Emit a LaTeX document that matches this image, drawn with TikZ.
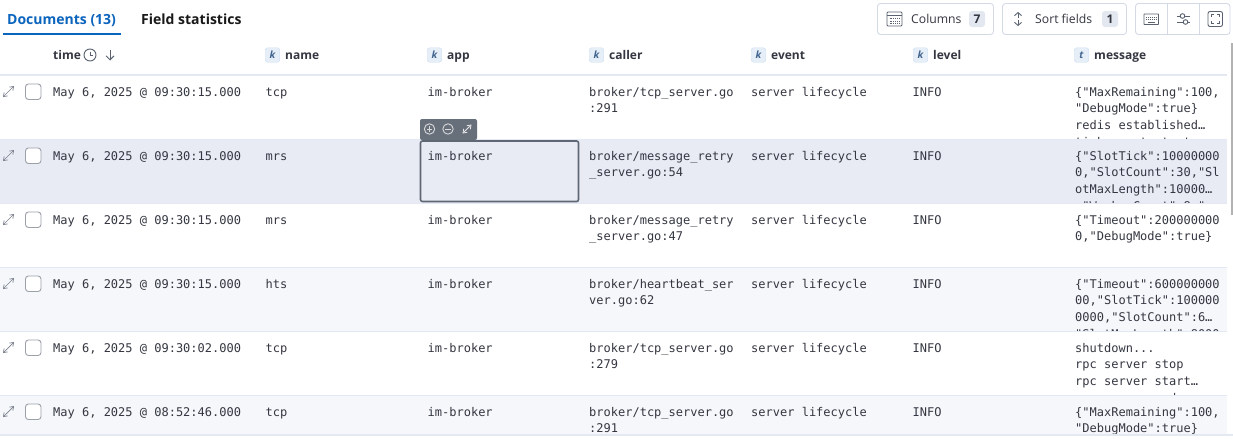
\documentclass[tikz,border=0pt]{standalone}
\usepackage{fontspec}
\usepackage{tikz}
\usetikzlibrary{arrows.meta}
\setmainfont{Open Sans}
\newfontfamily\cellfont{DejaVu Sans Mono}
\definecolor{inktext}{HTML}{343741}
\definecolor{linkblue}{HTML}{0B64BD}
\definecolor{rowline}{HTML}{E3E8F2}
\definecolor{rowstripe}{HTML}{F5F7FA}
\definecolor{rowhover}{HTML}{E8EBF4}
\definecolor{btnline}{HTML}{D3DAE6}
\definecolor{iconink}{HTML}{5A6270}
\definecolor{cellframe}{HTML}{5F6774}
\definecolor{badgefill}{HTML}{E6EEF8}
\definecolor{badgeline}{HTML}{CCDDF0}
\definecolor{badgeink}{HTML}{42658F}
\definecolor{countfill}{HTML}{E3E8F0}
\tikzset{
  cell/.style={anchor=north west,inner sep=0,align=left,text=inktext,
    font=\fontsize{12}{16.6}\selectfont\cellfont},
  head/.style={anchor=base west,inner sep=0,text=inktext,font=\fontsize{12}{16}\selectfont\bfseries},
  tabtext/.style={anchor=base west,inner sep=0,font=\fontsize{14}{16}\selectfont\bfseries},
  btntext/.style={anchor=base west,inner sep=0,text=inktext,font=\fontsize{12.2}{16}\selectfont},
  badge/.style={draw=badgeline,fill=badgefill,rounded corners=2.5,minimum size=14.5,inner sep=0,
    text=badgeink,font=\fontsize{10}{12}\selectfont\bfseries\itshape},
  count/.style={fill=countfill,rounded corners=3,minimum width=16,minimum height=16,inner sep=0,
    text=inktext,font=\fontsize{12}{14}\selectfont\bfseries},
  button/.style={draw=btnline,line width=0.9,rounded corners=3},
  rowsep/.style={rowline,line width=1.3},
  tick/.style={draw=iconink!60,line width=0.9,fill=white,rounded corners=3},
  expand/.style={iconink!80,line width=0.7,{Straight Barb[length=3.5,width=5]}-{Straight Barb[length=3.5,width=5]}},
  icon/.style={iconink,line width=0.9},
  tool/.style={white!85!black,line width=0.9}
}
\begin{document}
\begin{tikzpicture}[x=1pt,y=-1pt]
\useasboundingbox (0,0) rectangle (1233,447);
\fill[white] (0,0) rectangle (1233,447);
% tabs
\node[tabtext,text=linkblue] (tabdocs) at (7,24) {Documents (13)};
\node[tabtext,text=black!90] (tabstats) at (141,24) {Field statistics};
\fill[linkblue] (3,33) rectangle (120.5,35);
% toolbar
\draw[button] (877.5,3.5) rectangle (993.5,34.5);
\draw[icon,rounded corners=1] (887,12) rectangle (902,26);
\draw[icon] (887,15.5) -- (902,15.5);
\draw[icon,densely dotted] (889.5,18.5) -- (900,18.5);
\draw[icon,densely dotted] (889.5,21) -- (900,21);
\draw[icon,densely dotted] (889.5,23.5) -- (900,23.5);
\node[btntext] (colstext) at (911,23.5) {Columns};
\node[count] (colscount) at (977,19) {7};
\draw[button] (1002.5,3.5) rectangle (1126.5,34.5);
\draw[icon,-{Straight Barb[length=3,width=7]}] (1018,18) -- (1018,12);
\draw[icon,-{Straight Barb[length=3,width=7]}] (1018,20) -- (1018,26);
\node[btntext] (sorttext) at (1035,23.5) {Sort fields};
\node[count] (sortcount) at (1110,19) {1};
\draw[button] (1135.5,3.5) rectangle (1230,34.5);
\draw[btnline,line width=0.9] (1167.5,3.5) -- (1167.5,34.5);
\draw[btnline,line width=0.9] (1199.5,3.5) -- (1199.5,34.5);
\draw[icon,rounded corners=0.5] (1144,14) rectangle (1158.5,24.5);
\draw[icon,densely dotted] (1146,17) -- (1157,17);
\draw[icon,densely dotted] (1146,19.5) -- (1157,19.5);
\draw[icon] (1148,22.3) -- (1155,22.3);
\draw[icon] (1177,16) -- (1180,16) (1185,16) -- (1190,16);
\draw[icon] (1177,22) -- (1183,22) (1188,22) -- (1190,22);
\draw[icon] (1182.5,16) circle (2.3);
\draw[icon] (1185.5,22) circle (2.3);
\draw[icon,rounded corners=2] (1208,11.5) rectangle (1222.5,26.5);
\draw[icon] (1211,17) -- (1211,14.5) -- (1213.5,14.5);
\draw[icon] (1217,14.5) -- (1219.5,14.5) -- (1219.5,17);
\draw[icon] (1211,21) -- (1211,23.5) -- (1213.5,23.5);
\draw[icon] (1217,23.5) -- (1219.5,23.5) -- (1219.5,21);
% column heads
\node[head] (timehead) at (53,59.5) {time};
\draw[icon] (90,55) circle (6);
\draw[icon] (90,51.5) -- (90,55.5) -- (93,55.5);
\draw[icon,-{Straight Barb[length=4,width=8]}] (110,49.5) -- (110,60.5);
\node[badge] (namek) at (272.5,55) {k};
\node[head] (namehead) at (285,59.5) {name};
\node[badge] (appk) at (434.5,55) {k};
\node[head] (apphead) at (447,59.5) {app};
\node[badge] (callerk) at (596.5,55) {k};
\node[head] (callerhead) at (609,59.5) {caller};
\node[badge] (eventk) at (758.5,55) {k};
\node[head] (eventhead) at (771,59.5) {event};
\node[badge] (levelk) at (920.5,55) {k};
\node[head] (levelhead) at (933,59.5) {level};
\node[badge] (messaget) at (1081.5,55) {t};
\node[head] (messagehead) at (1094,59.5) {message};
\draw[rowsep] (0,75) -- (1227,75);
% row 1
\draw[expand] (3,97) -- (14,86);
\draw[tick] (25.5,84) rectangle (41,99.5);
\node[cell] (time1) at (53,84.4) {\strut May 6, 2025 @ 09:30:15.000};
\node[cell] (name1) at (265.5,84.4) {\strut tcp};
\node[cell] (app1) at (427.5,84.4) {\strut im-broker};
\node[cell] (caller1) at (589,84.4) {\strut broker/tcp\_server.go\\:291};
\node[cell] (event1) at (751,84.4) {\strut server lifecycle};
\node[cell] (level1) at (912.5,84.4) {\strut INFO};
\node[cell] (message1) at (1075,84.4) {\strut \{"MaxRemaining":100,\\"DebugMode":true\}\\redis established…\\tick count start};
% row 2
\fill[rowhover] (0,139.5) rectangle (1227,203.5);
\draw[rowsep] (0,139.5) -- (1227,139.5);
\draw[expand] (3,161) -- (14,150);
\draw[tick] (25.5,148) rectangle (41,163.5);
\node[cell] (time2) at (53,148.4) {\strut May 6, 2025 @ 09:30:15.000};
\node[cell] (name2) at (265.5,148.4) {\strut mrs};
\node[cell] (caller2) at (589,148.4) {\strut broker/message\_retry\\\_server.go:54};
\node[cell] (event2) at (751,148.4) {\strut server lifecycle};
\node[cell] (level2) at (912.5,148.4) {\strut INFO};
\node[cell] (message2) at (1075,148.4) {\strut \{"SlotTick":10000000\\0,"SlotCount":30,"Sl\\otMaxLength":10000…\\,"WorkerCount":8,"};
% row 3
\fill[white] (0,203.5) rectangle (1227,267.5);
\draw[rowsep] (0,203.5) -- (1227,203.5);
\draw[expand] (3,225) -- (14,214);
\draw[tick] (25.5,212) rectangle (41,227.5);
\node[cell] (time3) at (53,212.4) {\strut May 6, 2025 @ 09:30:15.000};
\node[cell] (name3) at (265.5,212.4) {\strut mrs};
\node[cell] (app3) at (427.5,212.4) {\strut im-broker};
\node[cell] (caller3) at (589,212.4) {\strut broker/message\_retry\\\_server.go:47};
\node[cell] (event3) at (751,212.4) {\strut server lifecycle};
\node[cell] (level3) at (912.5,212.4) {\strut INFO};
\node[cell] (message3) at (1075,212.4) {\strut \{"Timeout":200000000\\0,"DebugMode":true\}};
% row 4
\fill[rowstripe] (0,267.5) rectangle (1227,331.5);
\draw[rowsep] (0,267.5) -- (1227,267.5);
\draw[expand] (3,289) -- (14,278);
\draw[tick] (25.5,276) rectangle (41,291.5);
\node[cell] (time4) at (53,276.4) {\strut May 6, 2025 @ 09:30:15.000};
\node[cell] (name4) at (265.5,276.4) {\strut hts};
\node[cell] (app4) at (427.5,276.4) {\strut im-broker};
\node[cell] (caller4) at (589,276.4) {\strut broker/heartbeat\_ser\\ver.go:62};
\node[cell] (event4) at (751,276.4) {\strut server lifecycle};
\node[cell] (level4) at (912.5,276.4) {\strut INFO};
\node[cell] (message4) at (1075,276.4) {\strut \{"Timeout":600000000\\00,"SlotTick":100000\\0000,"SlotCount":6…\\"SlotMaxLength":8000};
% row 5
\fill[white] (0,331.5) rectangle (1227,395.5);
\draw[rowsep] (0,331.5) -- (1227,331.5);
\draw[expand] (3,353) -- (14,342);
\draw[tick] (25.5,340) rectangle (41,355.5);
\node[cell] (time5) at (53,340.4) {\strut May 6, 2025 @ 09:30:02.000};
\node[cell] (name5) at (265.5,340.4) {\strut tcp};
\node[cell] (app5) at (427.5,340.4) {\strut im-broker};
\node[cell] (caller5) at (589,340.4) {\strut broker/tcp\_server.go\\:279};
\node[cell] (event5) at (751,340.4) {\strut server lifecycle};
\node[cell] (level5) at (912.5,340.4) {\strut INFO};
\node[cell] (message5) at (1075,340.4) {\strut shutdown...\\rpc server stop\\rpc server start…\\rpc server end};
% row 6
\fill[rowstripe] (0,395.5) rectangle (1227,435);
\draw[rowsep] (0,395.5) -- (1227,395.5);
\draw[expand] (3,417) -- (14,406);
\draw[tick] (25.5,404) rectangle (41,419.5);
\node[cell] (time6) at (53,404.4) {\strut May 6, 2025 @ 08:52:46.000};
\node[cell] (name6) at (265.5,404.4) {\strut tcp};
\node[cell] (app6) at (427.5,404.4) {\strut im-broker};
\node[cell] (caller6) at (589,404.4) {\strut broker/tcp\_server.go\\:291};
\node[cell] (event6) at (751,404.4) {\strut server lifecycle};
\node[cell] (level6) at (912.5,404.4) {\strut INFO};
\node[cell] (message6) at (1075,404.4) {\strut \{"MaxRemaining":100,\\"DebugMode":true\}};
\fill[white] (0,435) rectangle (1233,447);
\draw[rowsep] (0,435) -- (1233,435);
% focused cell
\draw[cellframe,line width=1.6,rounded corners=2] (420.5,141) rectangle (578.5,201.5);
\node[cell] (app2) at (427.5,148.4) {\strut im-broker};
\fill[cellframe!95!white,rounded corners=2] (420,140) -- (420,119) -- (477,119) -- (477,140) -- cycle;
\draw[tool] (429.5,129) circle (5.2);
\draw[tool] (426.8,129) -- (432.2,129) (429.5,126.3) -- (429.5,131.7);
\draw[tool] (448,129) circle (5.2);
\draw[tool] (445.3,129) -- (450.7,129);
\draw[white!90!black,line width=0.8,{Straight Barb[length=3.5,width=5]}-{Straight Barb[length=3.5,width=5]}] (462.5,133.5) -- (471.5,124.5);
% scrollbar
\draw[black!30,line width=1.8] (1232,43) -- (1232,215);
\end{tikzpicture}
\end{document}
